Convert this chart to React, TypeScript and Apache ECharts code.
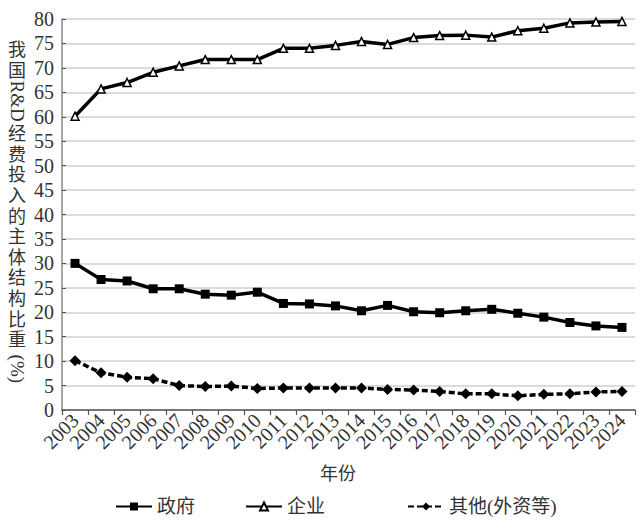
import React, { useEffect, useRef } from "react";
import * as echarts from "echarts";

const years = ["2003","2004","2005","2006","2007","2008","2009","2010","2011","2012","2013","2014","2015","2016","2017","2018","2019","2020","2021","2022","2023","2024"];
const government = [30.0,26.7,26.4,24.8,24.8,23.7,23.5,24.1,21.8,21.7,21.3,20.3,21.4,20.1,19.9,20.3,20.6,19.8,19.0,17.9,17.2,16.9];
const enterprise = [60.1,65.7,67.0,69.1,70.4,71.7,71.7,71.7,74.0,74.0,74.6,75.4,74.8,76.2,76.6,76.7,76.3,77.6,78.1,79.2,79.4,79.5];
const others = [10.1,7.6,6.7,6.4,5.0,4.8,4.9,4.4,4.5,4.5,4.5,4.5,4.2,4.1,3.8,3.3,3.3,2.9,3.2,3.3,3.7,3.8];
const seriesNames = ["政府", "企业", "其他(外资等)"];
const yTitleParts = ["我", "国", "R&D", "经", "费", "投", "入", "的", "主", "体", "结", "构", "比", "重", "(%)"];
const xTitle = "年份";

const SERIF = "'Liberation Serif', 'DejaVu Serif', 'Noto Sans CJK SC', serif";

export default function App() {
  const ref = useRef<HTMLDivElement>(null);
  useEffect(() => {
    if (!ref.current) return;
    const chart = echarts.init(ref.current, null, { renderer: "svg" });

    // vertical y-axis title
    const titleEls: any[] = [];
    let y = 40;
    yTitleParts.forEach((p) => {
      if (p.length > 1) {
        const len = p === "R&D" ? 40 : 36;
        titleEls.push({
          type: "text",
          x: 17,
          y: y + len / 2,
          rotation: -Math.PI / 2,
          style: { text: p, font: `19px ${SERIF}`, fill: "#333", align: "center", verticalAlign: "middle" },
        });
        y += len + 3;
      } else {
        titleEls.push({
          type: "text",
          x: 17,
          y: y + 10,
          style: { text: p, font: `18px ${SERIF}`, fill: "#333", align: "center", verticalAlign: "middle" },
        });
        y += 20.6;
      }
    });

    const legendBase = {
      top: 497,
      padding: 0,
      itemWidth: 36,
      itemHeight: 10,
      textStyle: { fontFamily: SERIF, fontSize: 19, color: "#333" },
    };

    chart.setOption({
      animation: false,
      backgroundColor: "#fff",
      grid: { left: 62, right: 7, top: 19, bottom: 113 },
      legend: [
        { ...legendBase, left: 115, data: [seriesNames[0]] },
        { ...legendBase, left: 245, data: [seriesNames[1]] },
        { ...legendBase, left: 407, data: [seriesNames[2]] },
      ],
      xAxis: {
        type: "category",
        data: years,
        boundaryGap: true,
        axisLine: { lineStyle: { color: "#555", width: 1.5 } },
        axisTick: { show: true, length: 5, lineStyle: { color: "#555", width: 1.2 } },
        axisLabel: {
          rotate: 45,
          margin: 7,
          fontFamily: SERIF,
          fontSize: 20,
          color: "#333",
          interval: 0,
        },
      },
      yAxis: {
        type: "value",
        min: 0,
        max: 80,
        interval: 5,
        axisLine: { show: true, lineStyle: { color: "#888", width: 1.5 } },
        axisTick: { show: true, inside: true, length: 4, lineStyle: { color: "#555" } },
        axisLabel: { fontFamily: SERIF, fontSize: 20, color: "#333", margin: 8 },
        splitLine: { lineStyle: { color: "#cfcfcf", width: 1.5 } },
      },
      graphic: [
        ...titleEls,
        {
          type: "text",
          x: 338,
          y: 474,
          style: { text: xTitle, font: `18px ${SERIF}`, fill: "#333", align: "center", verticalAlign: "middle" },
        },
      ],
      series: [
        {
          name: seriesNames[0],
          type: "line",
          data: government,
          symbol: "rect",
          symbolSize: 9,
          itemStyle: { color: "#000" },
          lineStyle: { color: "#000", width: 3.5 },
        },
        {
          name: seriesNames[1],
          type: "line",
          data: enterprise,
          symbol: "triangle",
          symbolSize: 8,
          itemStyle: { color: "#fff", borderColor: "#000", borderWidth: 1.5 },
          lineStyle: { color: "#000", width: 3.5 },
        },
        {
          name: seriesNames[2],
          type: "line",
          data: others,
          symbol: "diamond",
          symbolSize: 11,
          itemStyle: { color: "#000" },
          lineStyle: { color: "#000", width: 3.5, type: [6, 3] },
        },
      ],
    });
    return () => chart.dispose();
  }, []);
  return <div ref={ref} style={{ width: 642, height: 523, position: "absolute", left: 0, top: 0 }} />;
}
